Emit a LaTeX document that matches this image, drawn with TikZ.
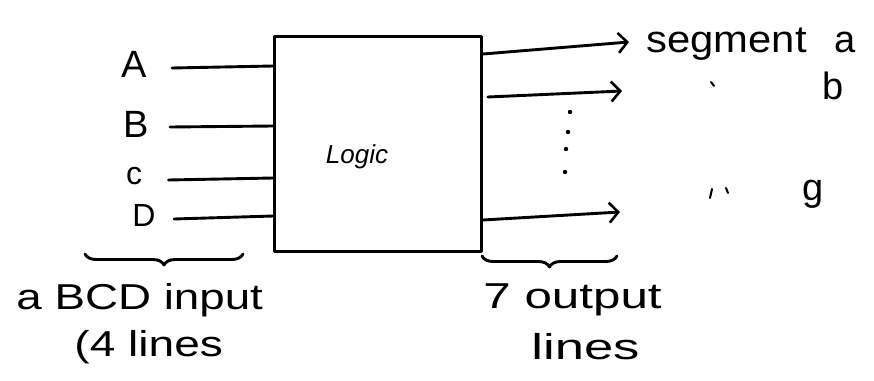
\documentclass[tikz,border=0pt]{standalone}
\usepackage{fontspec}
\setmainfont{Liberation Sans}
\usetikzlibrary{arrows.meta,decorations.pathreplacing}
\begin{document}
\begin{tikzpicture}[x=1pt,y=-1pt,line width=2.9pt,line cap=round,line join=round,
  pen/.style={draw=black},
  big/.style={font=\fontsize{38}{38}\selectfont,inner sep=0pt},
  mid/.style={font=\fontsize{32}{32}\selectfont,inner sep=0pt},
  low/.style={font=\fontsize{36}{36}\selectfont,inner sep=0pt},
  outarrow/.style={-{Straight Barb[length=9pt,width=20pt,line width=2.6pt]}},
  bracebelow/.style={decorate,decoration={brace,amplitude=11pt}}]
\useasboundingbox[fill=white] (0,0) rectangle (874,380);
% box
\node[pen,minimum width=207pt,minimum height=215pt,inner sep=0pt,anchor=north west] (logic) at (273,35) {};
\node[font=\fontsize{26}{26}\selectfont\itshape,inner sep=0pt] (logictext) at (357,157) {Logic};
% inputs
\node[big] (A) at (134,64) {A};
\node[big] (B) at (136,124) {B};
\node[mid] (C) at (134,176) {c};
\node[mid] (D) at (144,215) {D};
\coordinate (ia) at (logic.west |- 0,66);
\coordinate (ib) at (logic.west |- 0,126);
\coordinate (ic) at (logic.west |- 0,178);
\coordinate (id) at (logic.west |- 0,216);
\draw (A.east) ++(24,4) coordinate (sa) (sa) -- (ia);
\draw (B.east) ++(20,3) coordinate (sb) (sb) -- (ib);
\draw (C.east) ++(25,4) coordinate (sc) (sc) -- (ic);
\draw (D.east) ++(17,4) coordinate (sd) (sd) -- (id);
% outputs
\coordinate (oa) at (logic.east |- 0,54);
\coordinate (ob) at (logic.east |- 0,97);
\coordinate (og) at (logic.east |- 0,220);
\node[big,anchor=west] (sega) at (645,44) {\scalebox{1.1}[1]{segment}};
\node[big] (la) at (845,42) {a};
\node[big] (lb) at (833,86) {b};
\node[big] (lg) at (813,194) {g};
\draw[outarrow] (oa) -- ([xshift=-16pt]sega.west |- 0,42);
\draw[outarrow] (ob) ++(5,0) coordinate (obs) (obs) -- (622,91);
\coordinate (tipg) at (620,212);
\draw[outarrow] (og) -- (tipg);
% dots
\foreach \p/\q in {570/112,568/132,566/149,565/172} \fill (\p,\q) circle (2.2pt);
% ditto marks
\draw[line width=2pt] (711,82) -- (714,86);
\draw[line width=2pt] (712,189) -- (710,198);
\draw[line width=2pt] (726,188) -- (728,193);
% braces
\draw[bracebelow] (243,254) -- (85,254) node[midway] (bl) {};
\draw[bracebelow] (617,256) -- (482,256) node[midway] (br) {};
% bottom labels
\node[low,anchor=west] (bcd) at (15,300) {\scalebox{1.27}[1]{a BCD input}};
\node[low,anchor=west] (four) at (73,347) {\scalebox{1.28}[1]{(4 lines}};
\node[low,anchor=west] (seven) at (482,300) {\scalebox{1.37}[1]{7 output}};
\node[low,anchor=west] (lines) at (530,347) {\scalebox{1.46}[1]{lines}};
\end{tikzpicture}
\end{document}
